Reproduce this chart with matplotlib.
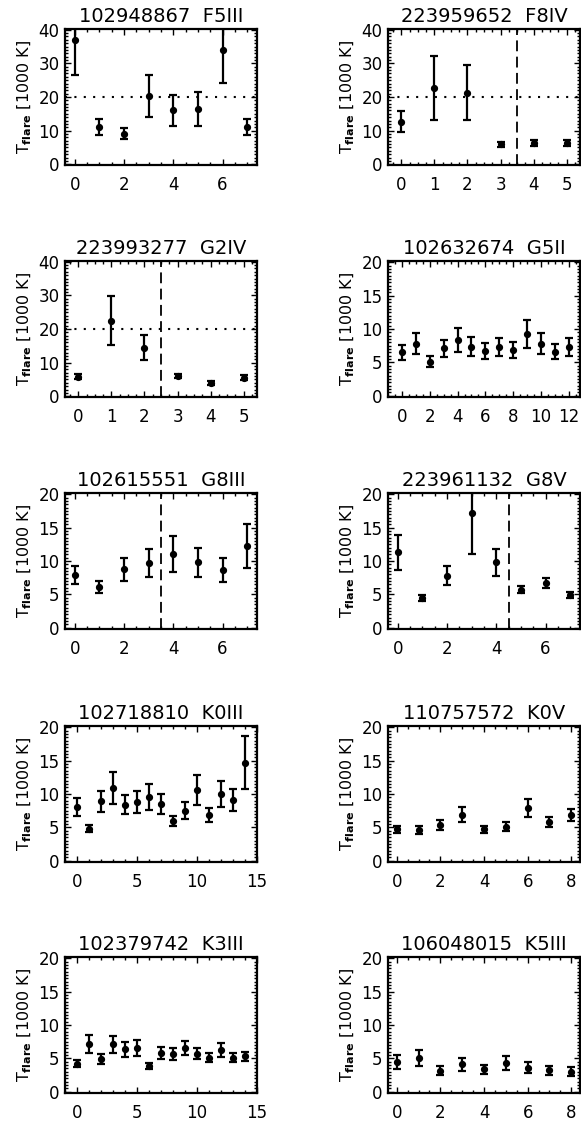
import matplotlib
matplotlib.use("Agg")
import matplotlib.pyplot as plt
from matplotlib.ticker import MultipleLocator, AutoMinorLocator

plt.rcParams['font.family'] = ['DejaVu Sans']
plt.rcParams['mathtext.fontset'] = 'dejavusans'

# star ids / spectral types
titles = ["102948867  F5III", "223959652  F8IV", "223993277  G2IV", "102632674  G5II",
          "102615551  G8III", "223961132  G8V", "102718810  K0III", "110757572  K0V",
          "102379742  K3III", "106048015  K5III"]

# flare temperatures [1000 K] and errors
t1 = [36.9, 11.1, 9.1, 20.3, 16.0, 16.5, 34.0, 11.1]
e1 = [10.4, 2.5, 1.7, 6.2, 4.6, 5.0, 9.7, 2.5]
t2 = [12.7, 22.8, 21.3, 5.9, 6.3, 6.3]
e2 = [3.0, 9.5, 8.2, 0.7, 0.8, 0.8]
t3 = [5.8, 22.4, 14.5, 6.0, 4.0, 5.5]
e3 = [0.7, 7.3, 3.7, 0.7, 0.5, 0.7]
t4 = [6.5, 7.8, 5.1, 7.1, 8.4, 7.35, 6.7, 7.3, 6.8, 9.2, 7.8, 6.6, 7.3]
e4 = [1.15, 1.55, 0.8, 1.3, 1.8, 1.4, 1.2, 1.4, 1.2, 2.1, 1.55, 1.15, 1.35]
t5 = [7.9, 6.1, 8.75, 9.7, 11.1, 9.8, 8.6, 12.2]
e5 = [1.4, 0.95, 1.75, 2.1, 2.7, 2.15, 1.8, 3.3]
t6 = [11.3, 4.45, 7.8, 17.2, 9.8, 5.7, 6.75, 4.9]
e6 = [2.6, 0.45, 1.4, 6.2, 2.0, 0.55, 0.75, 0.45]
t7 = [8.1, 4.8, 8.9, 10.9, 8.4, 8.8, 9.55, 8.5, 5.9, 7.5, 10.6, 6.9, 10.0, 9.1, 14.7]
e7 = [1.35, 0.55, 1.6, 2.35, 1.45, 1.6, 1.9, 1.5, 0.75, 1.25, 2.25, 1.05, 1.95, 1.7, 3.95]
t8 = [4.7, 4.6, 5.4, 6.9, 4.7, 5.1, 7.9, 5.8, 6.85]
e8 = [0.55, 0.55, 0.75, 1.1, 0.55, 0.65, 1.35, 0.7, 0.95]
t9 = [4.2, 7.2, 4.9, 7.1, 6.35, 6.6, 3.85, 5.8, 5.7, 6.55, 5.7, 5.1, 6.25, 5.1, 5.3]
e9 = [0.5, 1.35, 0.75, 1.25, 1.15, 1.2, 0.45, 0.95, 0.9, 1.1, 0.85, 0.65, 1.0, 0.7, 0.7]
t10 = [4.5, 5.0, 3.15, 4.1, 3.35, 4.3, 3.6, 3.2, 3.0]
e10 = [1.05, 1.2, 0.65, 0.95, 0.7, 1.0, 0.8, 0.65, 0.7]

temps = [t1, t2, t3, t4, t5, t6, t7, t8, t9, t10]
errs = [e1, e2, e3, e4, e5, e6, e7, e8, e9, e10]

# y range, dashed separator position (None = no line), horizontal dotted level
ymax = [40, 40, 40, 20, 20, 20, 20, 20, 20, 20]
vsplit = [None, 3.5, 2.5, None, 3.5, 4.5, None, None, None, None]
hlevel = [20, 20, 20, None, None, None, None, None, None, None]

W, H = 581, 1123
fig = plt.figure(figsize=(W / 100, H / 100), dpi=100)

lefts = [65, 388]
width = 192
tops = [29, 261, 493, 726, 957]
height = 136

for i in range(10):
    row, col = divmod(i, 2)
    ax = fig.add_axes([lefts[col] / W, 1 - (tops[row] + height) / H, width / W, height / H])
    t = temps[i]
    n = len(t)
    x = list(range(n))
    ax.errorbar(x, t, yerr=errs[i], fmt='o', color='black', ms=4.2, elinewidth=1.6,
                capsize=2.6, capthick=1.6)
    if hlevel[i] is not None:
        ax.axhline(hlevel[i], color='black', ls=(0, (1, 3.5)), lw=1.5)
    if vsplit[i] is not None:
        ax.axvline(vsplit[i], color='black', ls=(0, (6, 3)), lw=1.3)

    # x axis range like IDL
    if n >= 13:
        ax.set_xlim(-1, 15 if n == 15 else 12.8)
    else:
        ax.set_xlim(-0.4, n - 0.6)
    if n == 6:
        ax.xaxis.set_major_locator(MultipleLocator(1))
        ax.xaxis.set_minor_locator(AutoMinorLocator(4))
    elif n == 15:
        ax.xaxis.set_major_locator(MultipleLocator(5))
        ax.xaxis.set_minor_locator(AutoMinorLocator(5))
    else:
        ax.xaxis.set_major_locator(MultipleLocator(2))
        ax.xaxis.set_minor_locator(AutoMinorLocator(4))

    ax.set_ylim(-0.2, ymax[i] + 0.2)
    if ymax[i] == 40:
        ax.yaxis.set_major_locator(MultipleLocator(10))
    else:
        ax.yaxis.set_major_locator(MultipleLocator(5))
    ax.yaxis.set_minor_locator(AutoMinorLocator(10))

    ax.tick_params(which='both', direction='in', top=True, right=True, width=1.0)
    ax.tick_params(which='major', length=4.5)
    ax.tick_params(which='minor', length=2)
    ax.tick_params(axis='x', pad=8, labelsize=12)
    ax.tick_params(axis='y', pad=4, labelsize=12)
    for s in ax.spines.values():
        s.set_linewidth(1.6)

    ax.set_title(titles[i], fontsize=14, pad=5)
    ax.set_ylabel(r'T$_{\mathbf{flare}}$ [1000 K]', fontsize=11.5, labelpad=3)

fig.savefig("out.png", dpi=100)
